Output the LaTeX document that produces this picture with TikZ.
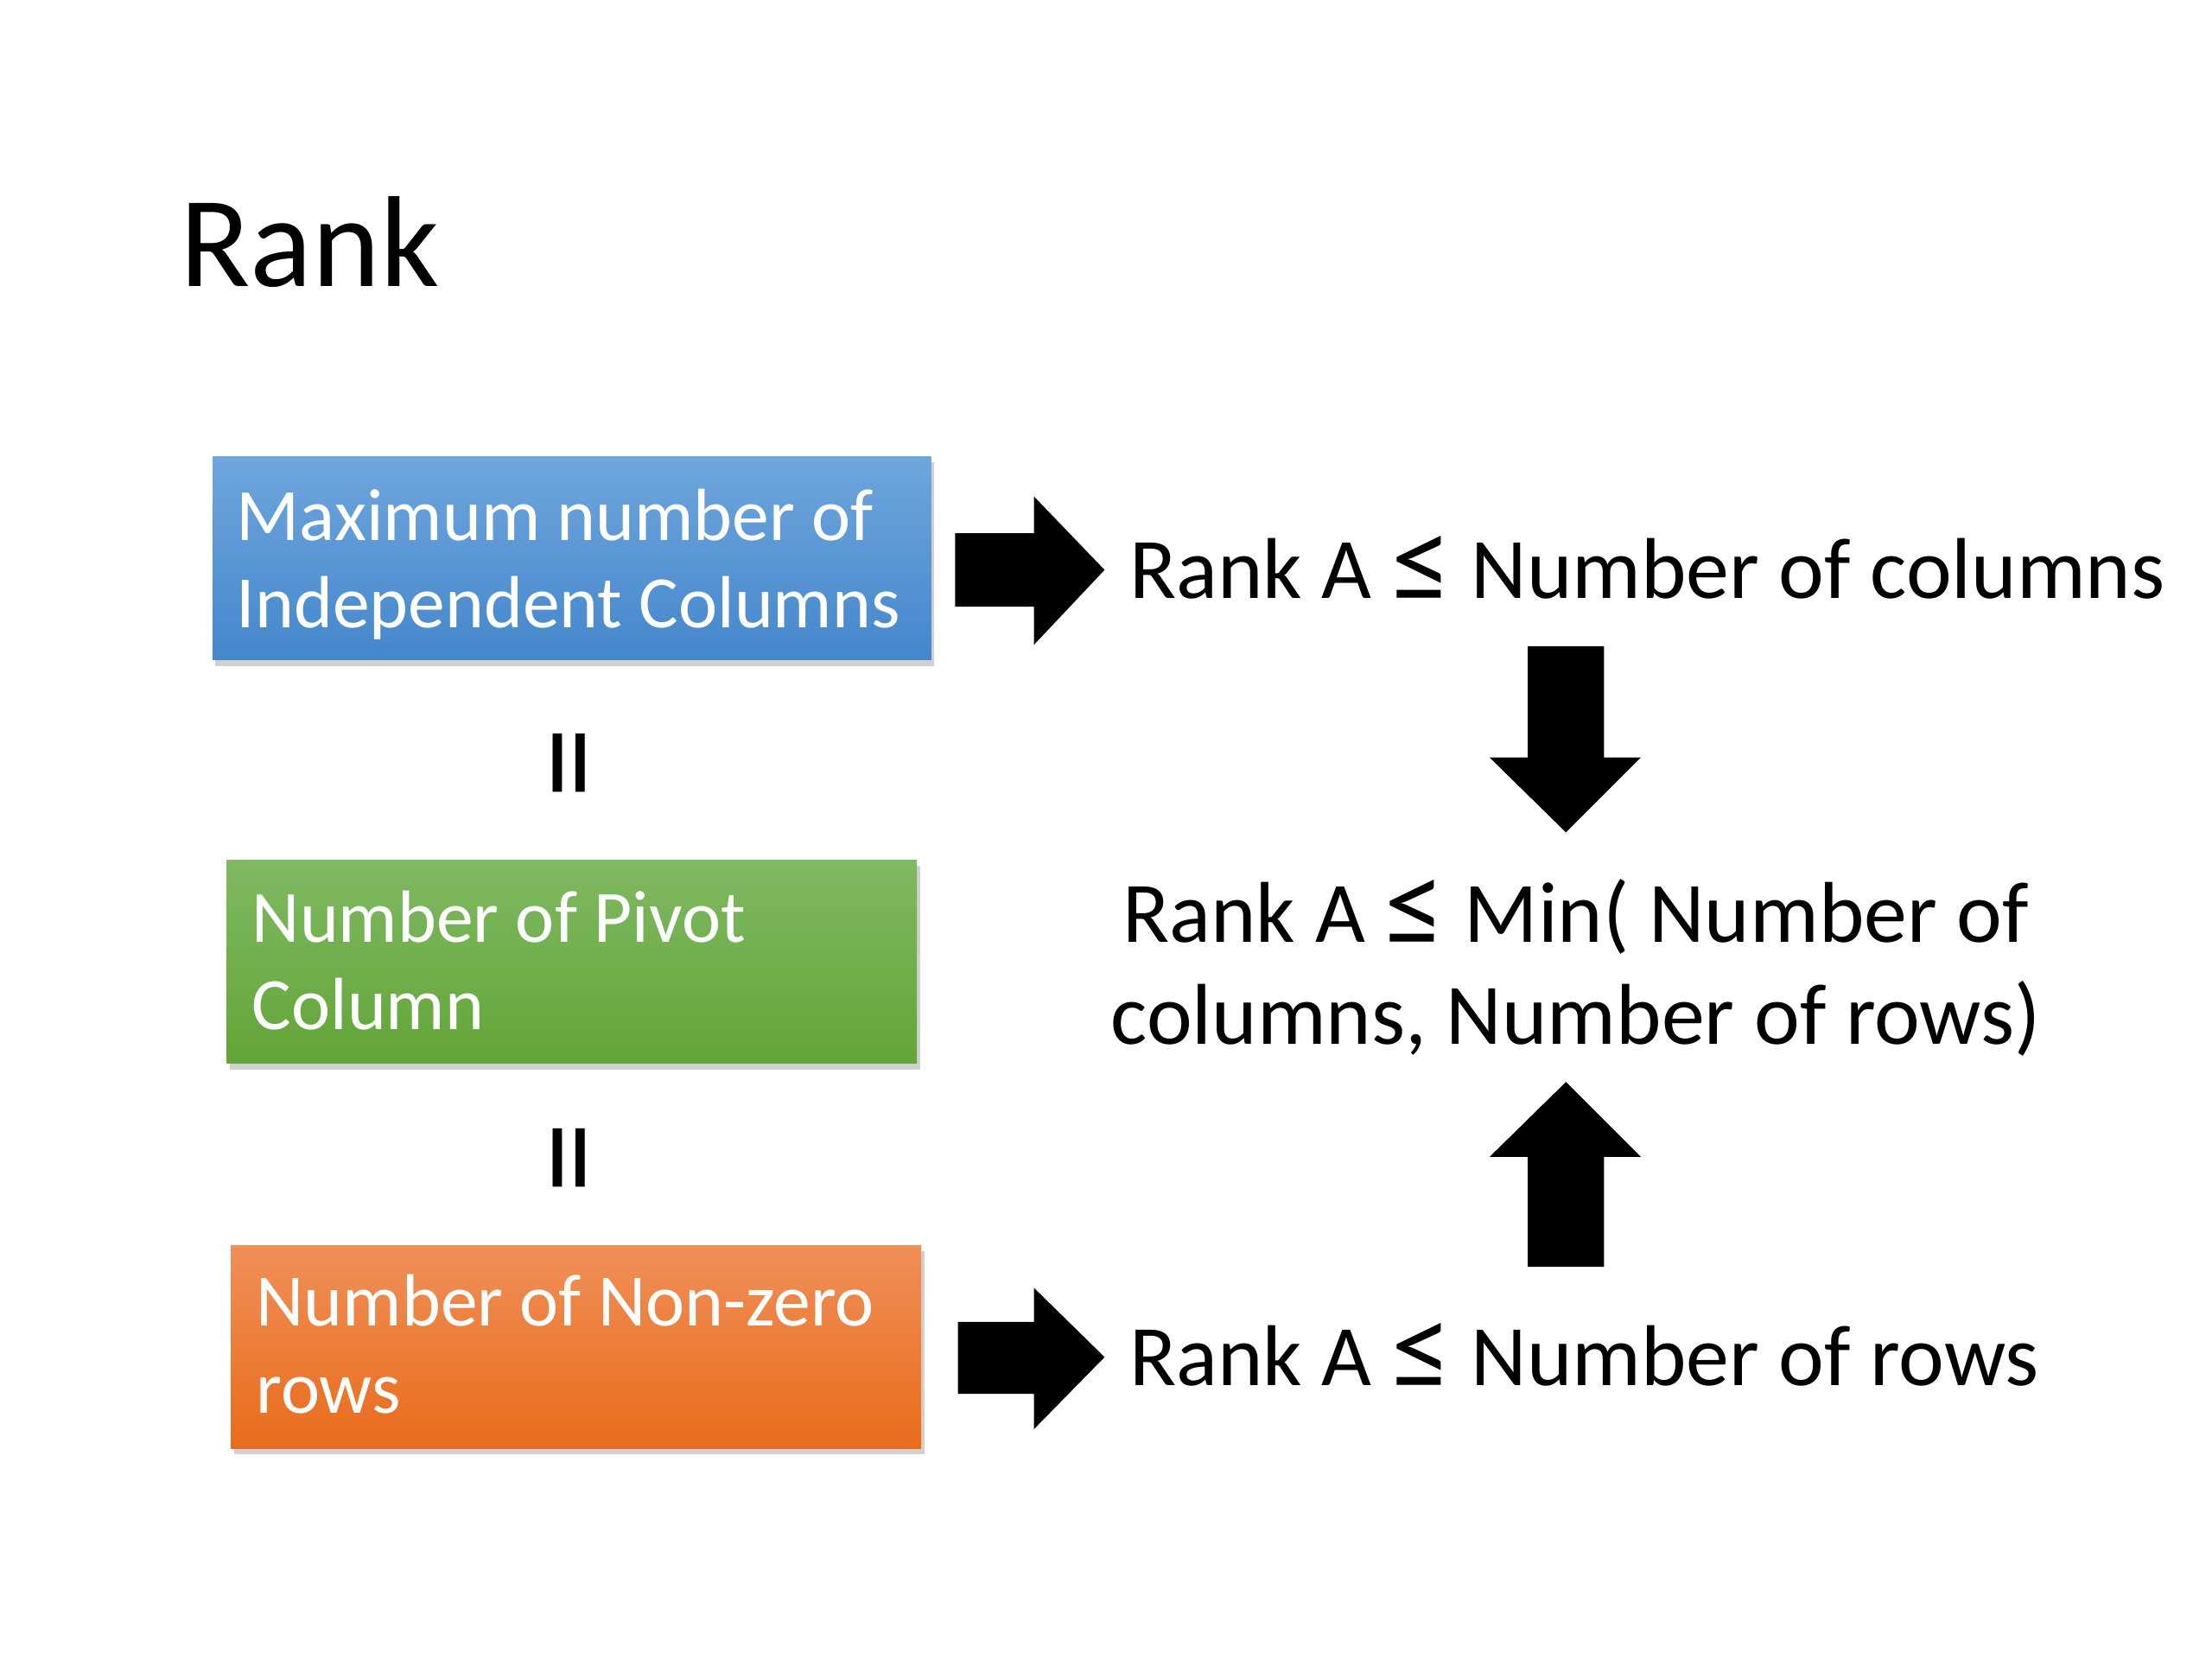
\documentclass[tikz,border=0pt]{standalone}
\usepackage{fontspec}
\usepackage{graphicx}
\setmainfont{Carlito}
\usetikzlibrary{shadows}
\definecolor{bluetop}{RGB}{111,166,221}
\definecolor{bluebot}{RGB}{68,135,204}
\definecolor{greentop}{RGB}{127,185,98}
\definecolor{greenbot}{RGB}{99,165,55}
\definecolor{orangetop}{RGB}{240,143,88}
\definecolor{orangebot}{RGB}{232,108,27}
\newcommand{\bigle}{\raisebox{-0.05em}{\scalebox{1.4}{≤}}}
\begin{document}
\begin{tikzpicture}[x=0.01cm,y=-0.01cm,
  box/.style={draw=none, rectangle, anchor=north west, minimum height=1.44cm, inner sep=0pt,
    drop shadow={shadow xshift=0.6pt, shadow yshift=-1.2pt, opacity=0.3, fill=black!60}},
  boxtext/.style={anchor=base west, align=left, inner sep=0pt, text=white,
    font=\fontsize{14.9}{17.6}\selectfont},
  rtext/.style={inner sep=0pt, font=\fontsize{17.4}{20.5}\selectfont},
  eqsign/.style={rotate=90, inner sep=0pt, font=\fontsize{29}{34}\selectfont},
  blockarrow/.style={fill=black}
]
\fill[white] (0,0) rectangle (1568,1176);
\useasboundingbox (0,0) rectangle (1568,1176);

\node[anchor=base west, inner sep=0pt, font=\fontsize{26.1}{31}\selectfont] (title) at (127,203) {Rank};

\node[box, minimum width=5.09cm, top color=bluetop, bottom color=bluebot] (blue) at (150,323) {};
\node[boxtext] (bluetxt) at (167,445) {Maximum number of\\Independent Columns};

\node[box, minimum width=4.89cm, top color=greentop, bottom color=greenbot] (green) at (160,609) {};
\node[boxtext] (greentxt) at (178,730) {Number of Pivot\\Column};

\node[box, minimum width=4.89cm, top color=orangetop, bottom color=orangebot] (orange) at (163,882) {};
\node[boxtext] (orangetxt) at (181,1002) {Number of Non-zero\\rows};

\node[eqsign] (eq1) at (414,541) {=};
\node[eqsign] (eq2) at (414,821) {=};

\node[rtext, anchor=base west] (r1) at (800,424) {Rank A \bigle{} Number of columns};
\node[rtext, anchor=base, align=center] (r2) at (1117,740) {Rank A \bigle{} Min( Number of\\columns, Number of rows)};
\node[rtext, anchor=base west] (r3) at (800,982) {Rank A \bigle{} Number of rows};

\fill[blockarrow] (677,378) -- (733,378) -- (733,352) -- (783,404) -- (733,457) -- (733,430) -- (677,430) -- cycle;
\fill[blockarrow] (679,937) -- (733,937) -- (733,913) -- (783,962) -- (733,1013) -- (733,988) -- (679,988) -- cycle;
\fill[blockarrow] (1083,458) -- (1137,458) -- (1137,537) -- (1163,537) -- (1110,590) -- (1056,537) -- (1083,537) -- cycle;
\fill[blockarrow] (1083,898) -- (1137,898) -- (1137,820) -- (1163,820) -- (1110,767) -- (1056,820) -- (1083,820) -- cycle;
\end{tikzpicture}
\end{document}
